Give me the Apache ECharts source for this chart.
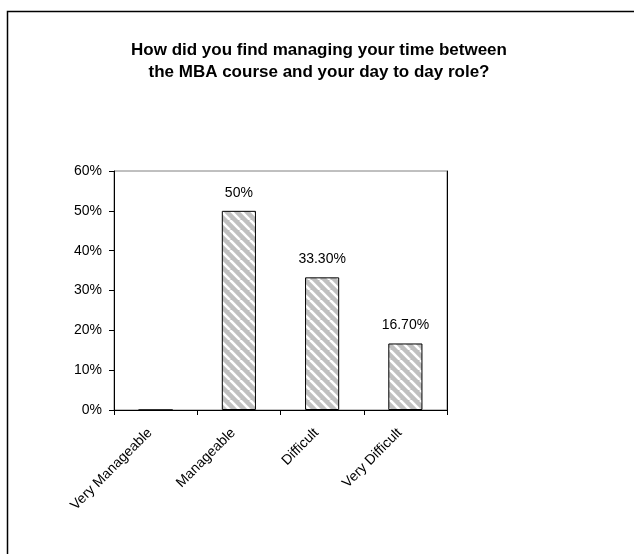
<!DOCTYPE html>
<html>
<head>
<meta charset="utf-8">
<script src="https://cdn.jsdelivr.net/npm/echarts@6/dist/echarts.min.js"></script>
<style>
  html, body { margin: 0; padding: 0; background: #fff; }
  #chart { width: 634px; height: 554px; }
</style>
</head>
<body>
<div id="chart"></div>
<script>
// chart data
var categories = ['Very Manageable', 'Manageable', 'Difficult', 'Very Difficult']
var values = [0, 0.5, 0.333, 0.167]
var valueLabels = ['', '50%', '33.30%', '16.70%']
var yTicks = [0, 0.1, 0.2, 0.3, 0.4, 0.5, 0.6]

// diagonal hatch like excel's pattern fill
function makeHatch() {
  var s = 10
  var c = document.createElement('canvas')
  c.width = s
  c.height = s
  var ctx = c.getContext('2d')
  ctx.fillStyle = '#c0c0c0'
  ctx.fillRect(0, 0, s, s)
  ctx.strokeStyle = '#ffffff'
  ctx.lineWidth = 2.6
  for (var k = -s; k <= s; k += s) {
    ctx.beginPath()
    ctx.moveTo(k, 0)
    ctx.lineTo(k + s, s)
    ctx.stroke()
  }
  return c
}

var chart = echarts.init(document.getElementById('chart'))
var hatch = makeHatch()
var font = 'Liberation Sans, Arial, sans-serif'

chart.setOption({
  animation: false,
  backgroundColor: '#fff',
  textStyle: { fontFamily: font },
  title: {
    text: 'How did you find managing your time between\nthe MBA course and your day to day role?',
    left: 314,
    top: 34,
    textAlign: 'center',
    textStyle: {
      fontSize: 17,
      fontWeight: 'bold',
      color: '#000',
      lineHeight: 22,
      fontFamily: font
    }
  },
  graphic: [{
    type: 'rect',
    shape: { x: 7.5, y: 11.5, width: 700, height: 700 },
    style: { fill: 'none', stroke: '#000', lineWidth: 1.5 },
    silent: true
  }],
  grid: {
    left: 114,
    right: 187,
    top: 171,
    bottom: 144,
    show: true,
    borderColor: '#808080',
    borderWidth: 1
  },
  xAxis: {
    type: 'category',
    data: categories,
    axisLine: { lineStyle: { color: '#000' } },
    axisTick: { show: true, alignWithLabel: false, length: 5, lineStyle: { color: '#000' } },
    axisLabel: {
      rotate: 45,
      interval: 0,
      color: '#000',
      fontSize: 14,
      margin: 15,
      padding: [0, 8, 0, 0]
    }
  },
  yAxis: [{
    type: 'value',
    min: 0,
    max: 0.6,
    interval: 0.1,
    splitLine: { show: false },
    axisLine: { show: true, lineStyle: { color: '#000' } },
    axisTick: { show: true, length: 5, lineStyle: { color: '#000' } },
    axisLabel: {
      color: '#000',
      fontSize: 14,
      margin: 12,
      formatter: function (v) {
        var hit = yTicks.find(function (t) { return Math.abs(t - v) < 1e-9 })
        return hit === undefined ? '' : Math.round(hit * 100) + '%'
      }
    }
  }, {
    type: 'value',
    position: 'right',
    min: 0,
    max: 0.6,
    interval: 0.1,
    splitLine: { show: false },
    axisLine: { show: true, lineStyle: { color: '#000' } },
    axisTick: { show: false },
    axisLabel: { show: false }
  }],
  series: [{
    type: 'bar',
    data: values,
    barWidth: '41%',
    itemStyle: {
      color: { image: hatch, repeat: 'repeat' },
      borderColor: '#000',
      borderWidth: 1
    },
    label: {
      show: true,
      position: 'top',
      distance: 11,
      color: '#000',
      fontSize: 14,
      formatter: function (p) { return valueLabels[p.dataIndex] }
    }
  }]
})
</script>
</body>
</html>
